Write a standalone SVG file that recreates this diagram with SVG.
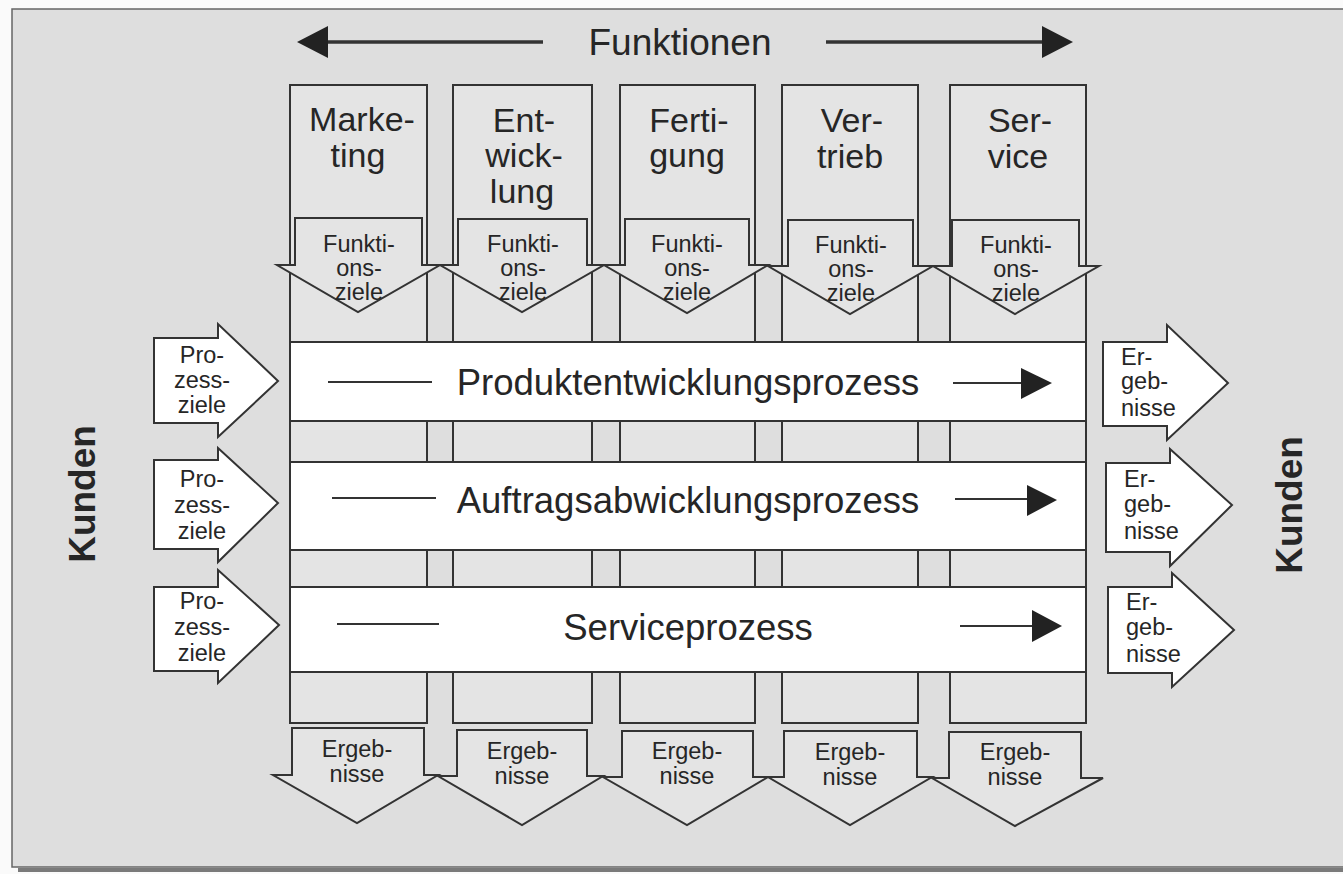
<svg xmlns="http://www.w3.org/2000/svg" width="1343" height="874" viewBox="0 0 1343 874">
<style>
.t{font-family:"Liberation Sans",Arial,sans-serif;fill:#262626}
.big{font-size:34px;text-anchor:middle}
.proc{font-size:36.5px;text-anchor:middle}
.sm{font-size:23.5px;text-anchor:middle}
.sml{font-size:23.5px}
.kd{font-size:37px;font-weight:bold;text-anchor:middle}
.col{fill:#e4e4e4;stroke:#333;stroke-width:2}
.arr{fill:#e4e4e4;stroke:#333;stroke-width:2;stroke-linejoin:miter}
.warr{fill:#fff;stroke:#333;stroke-width:2}
.bar{fill:#fff;stroke:#333;stroke-width:2}
.ln{stroke:#333;stroke-width:2;fill:none}
.hd{fill:#222}
</style>
<rect x="0" y="0" width="1343" height="874" fill="#fafafa"/>
<rect x="18" y="868" width="1325" height="4" fill="#7a7a7a"/>
<rect x="12" y="9" width="1340" height="858" fill="#dedede" stroke="#666" stroke-width="1.5"/>

<g id="header">
  <line x1="325" y1="42" x2="543" y2="42" stroke="#333" stroke-width="3.5"/>
  <polygon class="hd" points="297,42 328,26 328,58"/>
  <line x1="826" y1="42" x2="1045" y2="42" stroke="#333" stroke-width="3.5"/>
  <polygon class="hd" points="1073,42 1042,26 1042,58"/>
  <text class="t big" x="680" y="55" style="font-size:37px">Funktionen</text>
</g>

<g id="col-marketing">
  <rect class="col" x="290" y="85" width="137" height="638"/>
  <text class="t big" x="362" y="131">Marke-</text>
  <text class="t big" x="358" y="167">ting</text>
</g>
<g id="col-entwicklung">
  <rect class="col" x="453" y="85" width="139" height="638"/>
  <text class="t big" x="524" y="132">Ent-</text>
  <text class="t big" x="524" y="167">wick-</text>
  <text class="t big" x="522" y="203">lung</text>
</g>
<g id="col-fertigung">
  <rect class="col" x="620" y="85" width="135" height="638"/>
  <text class="t big" x="689" y="132">Ferti-</text>
  <text class="t big" x="687" y="167">gung</text>
</g>
<g id="col-vertrieb">
  <rect class="col" x="782" y="85" width="136" height="638"/>
  <text class="t big" x="852" y="132">Ver-</text>
  <text class="t big" x="850" y="168">trieb</text>
</g>
<g id="col-service">
  <rect class="col" x="950" y="85" width="136" height="638"/>
  <text class="t big" x="1020" y="132">Ser-</text>
  <text class="t big" x="1018" y="168">vice</text>
</g>

<g id="fz-marketing">
  <polygon class="arr" points="295,218 422,218 422,265 440,265 358,312 277,265 295,265"/>
  <text class="t sm" x="359" y="252">Funkti-</text>
  <text class="t sm" x="359" y="276">ons-</text>
  <text class="t sm" x="359" y="300">ziele</text>
</g>
<g id="fz-entwicklung">
  <polygon class="arr" points="458,219 587,219 587,265 604,265 522,312 440,265 458,265"/>
  <text class="t sm" x="523" y="252">Funkti-</text>
  <text class="t sm" x="523" y="276">ons-</text>
  <text class="t sm" x="523" y="300">ziele</text>
</g>
<g id="fz-fertigung">
  <polygon class="arr" points="625,219 749,219 749,265 768,265 687,313 604,265 625,265"/>
  <text class="t sm" x="687" y="252">Funkti-</text>
  <text class="t sm" x="687" y="276">ons-</text>
  <text class="t sm" x="687" y="300">ziele</text>
</g>
<g id="fz-vertrieb">
  <polygon class="arr" points="788,220 913,220 913,266 933,266 850,314 768,266 788,266"/>
  <text class="t sm" x="851" y="253">Funkti-</text>
  <text class="t sm" x="851" y="277">ons-</text>
  <text class="t sm" x="851" y="301">ziele</text>
</g>
<g id="fz-service">
  <polygon class="arr" points="952,220 1079,220 1079,266 1099,266 1015,314 933,266 952,266"/>
  <text class="t sm" x="1016" y="253">Funkti-</text>
  <text class="t sm" x="1016" y="277">ons-</text>
  <text class="t sm" x="1016" y="301">ziele</text>
</g>

<g id="bar-produkt">
  <rect class="bar" x="290" y="342" width="796" height="79"/>
  <line class="ln" x1="328" y1="382" x2="432" y2="382"/>
  <text class="t proc" x="688" y="395">Produktentwicklungsprozess</text>
  <line class="ln" x1="953" y1="383" x2="1024" y2="383"/>
  <polygon class="hd" points="1052,383 1021,368 1021,399"/>
</g>
<g id="bar-auftrag">
  <rect class="bar" x="290" y="462" width="796" height="88"/>
  <line class="ln" x1="332" y1="498" x2="436" y2="498"/>
  <text class="t proc" x="688" y="513">Auftragsabwicklungsprozess</text>
  <line class="ln" x1="955" y1="499" x2="1030" y2="499"/>
  <polygon class="hd" points="1057,500 1027,485 1027,516"/>
</g>
<g id="bar-service">
  <rect class="bar" x="290" y="587" width="796" height="85"/>
  <line class="ln" x1="337" y1="624" x2="439" y2="624"/>
  <text class="t proc" x="688" y="640">Serviceprozess</text>
  <line class="ln" x1="960" y1="626" x2="1035" y2="626"/>
  <polygon class="hd" points="1062,626 1032,610 1032,642"/>
</g>

<g id="pz-1">
  <polygon class="warr" points="154,338 218,338 218,324 278,381 218,437 218,423 154,423"/>
  <text class="t sm" x="202" y="363">Pro-</text>
  <text class="t sm" x="202" y="388">zess-</text>
  <text class="t sm" x="202" y="413">ziele</text>
</g>
<g id="pz-2">
  <polygon class="warr" points="154,460 218,460 218,448 278,503 218,562 218,549 154,549"/>
  <text class="t sm" x="202" y="487">Pro-</text>
  <text class="t sm" x="202" y="513">zess-</text>
  <text class="t sm" x="202" y="539">ziele</text>
</g>
<g id="pz-3">
  <polygon class="warr" points="154,587 218,587 218,570 279,625 218,683 218,671 154,671"/>
  <text class="t sm" x="202" y="609">Pro-</text>
  <text class="t sm" x="202" y="635">zess-</text>
  <text class="t sm" x="202" y="661">ziele</text>
</g>

<g id="er-1">
  <polygon class="warr" points="1103,342 1167,342 1167,325 1228,383 1167,440 1167,426 1103,426"/>
  <text class="t sml" x="1121" y="365">Er-</text>
  <text class="t sml" x="1121" y="389">geb-</text>
  <text class="t sml" x="1121" y="416">nisse</text>
</g>
<g id="er-2">
  <polygon class="warr" points="1106,463 1170,463 1170,449 1232,505 1170,566 1170,552 1106,552"/>
  <text class="t sml" x="1124" y="487">Er-</text>
  <text class="t sml" x="1124" y="512">geb-</text>
  <text class="t sml" x="1124" y="539">nisse</text>
</g>
<g id="er-3">
  <polygon class="warr" points="1108,587 1172,587 1172,573 1234,630 1172,687 1172,673 1108,673"/>
  <text class="t sml" x="1126" y="610">Er-</text>
  <text class="t sml" x="1126" y="635">geb-</text>
  <text class="t sml" x="1126" y="662">nisse</text>
</g>

<g id="eb-marketing">
  <polygon class="arr" points="292,728 424,728 424,775 438,775 357,823 273,775 292,775"/>
  <text class="t sm" x="357" y="757">Ergeb-</text>
  <text class="t sm" x="357" y="782">nisse</text>
</g>
<g id="eb-entwicklung">
  <polygon class="arr" points="457,730 587,730 587,776 603,776 522,825 438,776 457,776"/>
  <text class="t sm" x="522" y="759">Ergeb-</text>
  <text class="t sm" x="522" y="784">nisse</text>
</g>
<g id="eb-fertigung">
  <polygon class="arr" points="622,731 753,731 753,777 768,777 687,825 603,777 622,777"/>
  <text class="t sm" x="687" y="759">Ergeb-</text>
  <text class="t sm" x="687" y="784">nisse</text>
</g>
<g id="eb-vertrieb">
  <polygon class="arr" points="784,731 917,731 917,777 932,777 850,825 768,777 784,777"/>
  <text class="t sm" x="850" y="760">Ergeb-</text>
  <text class="t sm" x="850" y="785">nisse</text>
</g>
<g id="eb-service">
  <polygon class="arr" points="949,732 1081,732 1081,778 1103,778 1015,826 932,778 949,778"/>
  <text class="t sm" x="1015" y="760">Ergeb-</text>
  <text class="t sm" x="1015" y="785">nisse</text>
</g>

<g id="kunden-left">
  <text class="t kd" transform="translate(95,494) rotate(-90)">Kunden</text>
</g>
<g id="kunden-right">
  <text class="t kd" transform="translate(1302,505) rotate(-90)">Kunden</text>
</g>
</svg>
